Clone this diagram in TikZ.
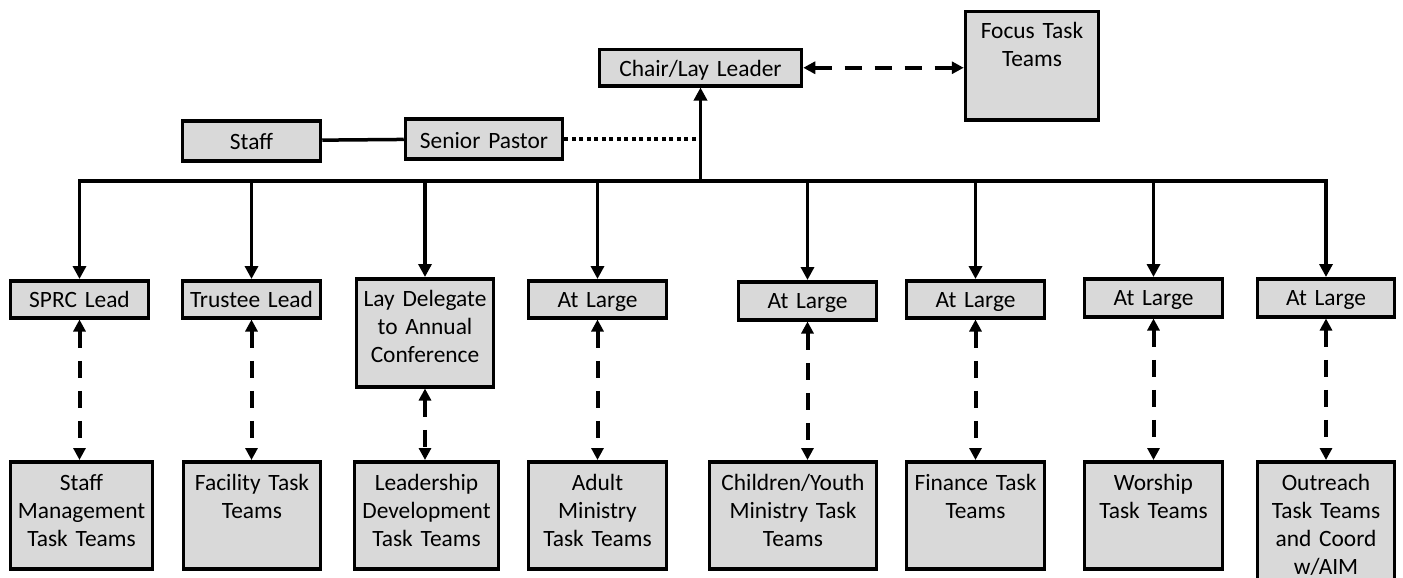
\documentclass[tikz,border=0pt]{standalone}
\usepackage{fontspec}
\setmainfont{Carlito}
\usetikzlibrary{arrows.meta}
\definecolor{boxgray}{HTML}{D9D9D9}

\begin{document}
\begin{tikzpicture}[x=1pt,y=-1pt,line width=3.5pt,>={Triangle[length=13pt,width=13pt]},
  unit box/.style={draw,line width=3.5pt,fill=boxgray,inner sep=0pt,align=center,anchor=north,font=\fontsize{23.4}{28}\selectfont,text height=27pt},
  team link/.style={{Triangle[length=12pt,width=12pt]}-{Triangle[length=12pt,width=12pt]},line width=4pt,dash pattern=on 17pt off 13pt}]
  \useasboundingbox (0,0) rectangle (1403,578);
  \clip (0,0) rectangle (1403,578);

  % top of the chart
  \node[unit box,text width=202pt,text depth=9pt] (chair) at (700.5,48) {Chair/Lay Leader};
  \node[unit box,text width=133pt,text depth=81pt] (focus) at (1032,10) {Focus Task\\Teams};
  \node[unit box,text width=138pt,text depth=11pt,text height=29pt] (staff) at (251.5,119) {Staff};
  \node[unit box,text width=157pt,text depth=10pt,text height=30pt] (pastor) at (484,117) {Senior Pastor};

  % leads
  \node[unit box,text width=138pt,text depth=10pt] (sprc) at (79.5,279) {SPRC Lead};
  \node[unit box,text width=138pt,text depth=10pt] (trustee) at (251.5,279) {Trustee Lead};
  \node[unit box,text width=137pt,text depth=80pt,text height=28pt] (delegate) at (425,277) {Lay Delegate\\to Annual\\Conference};
  \node[unit box,text width=138pt,text depth=10pt] (large1) at (597.5,279) {At Large};
  \node[unit box,text width=138pt,text depth=11pt] (large2) at (807.5,280) {At Large};
  \node[unit box,text width=138pt,text depth=10pt] (large3) at (975.5,279) {At Large};
  \node[unit box,text width=138pt,text depth=11pt] (large4) at (1153.5,277) {At Large};
  \node[unit box,text width=137pt,text depth=11pt] (large5) at (1326,277) {At Large};

  % task teams
  \node[unit box,text width=142pt,text depth=78pt,text height=29pt] (mgmt) at (81.5,460) {Staff\\Management\\Task Teams};
  \node[unit box,text width=137pt,text depth=78pt,text height=29pt] (facility) at (252,460) {Facility Task\\Teams};
  \node[unit box,text width=144pt,text depth=78pt,text height=29pt] (leadership) at (426.5,460) {Leadership\\Development\\Task Teams};
  \node[unit box,text width=138pt,text depth=78pt,text height=29pt] (adult) at (597.5,460) {Adult\\Ministry\\Task Teams};
  \node[unit box,text width=167pt,text depth=78pt,text height=29pt] (youth) at (793,460) {Children/Youth\\Ministry Task\\Teams};
  \node[unit box,text width=138pt,text depth=78pt,text height=29pt] (finance) at (975.5,460) {Finance Task\\Teams};
  \node[unit box,text width=138pt,text depth=78pt,text height=29pt] (worship) at (1153.5,460) {Worship\\Task Teams};
  \node[unit box,text width=137pt,text depth=130pt,text height=29pt] (outreach) at (1326,460) {Outreach\\Task Teams\\and Coord\\w/AIM};

  \coordinate (hub) at (700.5,181);

  \draw[->] (hub) -- (chair);
  \draw (staff) -- (pastor);
  \draw[dash pattern=on 4pt off 3.5pt] (pastor.east) -- (pastor.east -| hub);
  \draw[team link] (chair.east) -- (chair.east -| focus.west);

  \draw[->] (hub) -| (sprc);
  \draw[->] (hub) -| (trustee);
  \draw[->] (hub) -| (delegate);
  \draw[->] (hub) -| (large1);
  \draw[->] (hub) -| (large2);
  \draw[->] (hub) -| (large3);
  \draw[->] (hub) -| (large4);
  \draw[->] (hub) -| (large5);

  \path[team link]
    (sprc.south) edge (sprc.south |- mgmt.north)
    (trustee.south) edge (trustee.south |- facility.north)
    (delegate.south) edge (delegate.south |- leadership.north)
    (large1.south) edge (large1.south |- adult.north)
    (large2.south) edge (large2.south |- youth.north)
    (large3.south) edge (large3.south |- finance.north)
    (large4.south) edge (large4.south |- worship.north)
    (large5.south) edge (large5.south |- outreach.north)
  ;
\end{tikzpicture}
\end{document}
